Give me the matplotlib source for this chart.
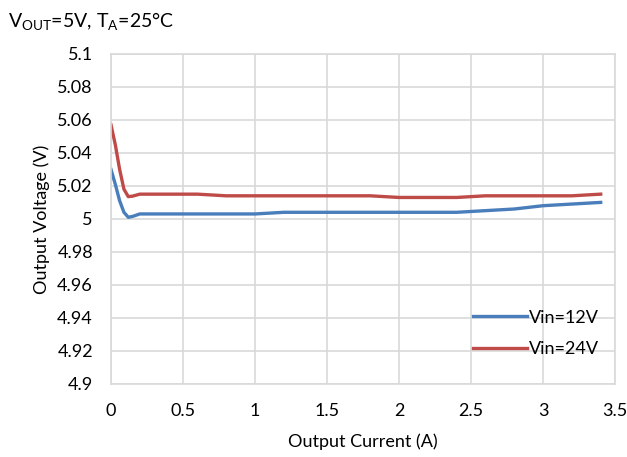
import numpy as np
import matplotlib.pyplot as plt

plt.rcParams['font.family'] = ['Lato', 'DejaVu Sans']
plt.rcParams['mathtext.fontset'] = 'custom'
plt.rcParams['mathtext.rm'] = 'Lato'

# Output current (A) and output voltage (V)
i_12 = [0, 0.03, 0.06, 0.09, 0.12, 0.15, 0.2, 0.4, 0.6, 0.8, 1.0, 1.2, 1.4, 1.6, 1.8, 2.0, 2.2, 2.4, 2.6, 2.8, 3.0, 3.2, 3.4]
v_12 = [5.030, 5.021, 5.011, 5.004, 5.001, 5.0015, 5.003, 5.003, 5.003, 5.003, 5.003, 5.004, 5.004, 5.004, 5.004, 5.004, 5.004, 5.004, 5.005, 5.006, 5.008, 5.009, 5.010]
i_24 = [0, 0.03, 0.06, 0.09, 0.12, 0.15, 0.2, 0.4, 0.6, 0.8, 1.0, 1.2, 1.4, 1.6, 1.8, 2.0, 2.2, 2.4, 2.6, 2.8, 3.0, 3.2, 3.4]
v_24 = [5.057, 5.045, 5.030, 5.018, 5.0135, 5.0138, 5.015, 5.015, 5.015, 5.014, 5.014, 5.014, 5.014, 5.014, 5.014, 5.013, 5.013, 5.013, 5.014, 5.014, 5.014, 5.014, 5.015]

xticks = [0, 0.5, 1, 1.5, 2, 2.5, 3, 3.5]
xtick_labels = ['0', '0.5', '1', '1.5', '2', '2.5', '3', '3.5']
yticks = [4.9, 4.92, 4.94, 4.96, 4.98, 5.0, 5.02, 5.04, 5.06, 5.08, 5.1]
ytick_labels = ['4.9', '4.92', '4.94', '4.96', '4.98', '5', '5.02', '5.04', '5.06', '5.08', '5.1']

fig = plt.figure(figsize=(6.27, 4.57), dpi=100)
ax = fig.add_axes([0.177, 0.160, 0.804, 0.722])

ax.plot(i_12, v_12, color='#4a7ebb', lw=2.4, label='Vin=12V')
ax.plot(i_24, v_24, color='#be4b48', lw=2.4, label='Vin=24V')

ax.set_xlim(0, 3.5)
ax.set_ylim(4.9, 5.1)
ax.set_xticks(xticks)
ax.set_xticklabels(xtick_labels)
ax.set_yticks(yticks)
ax.set_yticklabels(ytick_labels)
ax.tick_params(length=0, labelsize=13, colors='black')
ax.tick_params(axis='x', pad=14)
ax.tick_params(axis='y', pad=13)
ax.grid(True, color='#d9d9d9', lw=1.2)
for s in ax.spines.values():
    s.set_color('#d9d9d9')
    s.set_linewidth(1.2)

ax.set_xlabel('Output Current (A)', fontsize=13, labelpad=10)
ax.set_ylabel('Output Voltage (V)', fontsize=13, labelpad=5)

ax.legend(loc='lower right', bbox_to_anchor=(1.0, 0.032), frameon=False, fontsize=13,
          handlelength=3.0, handletextpad=0.1, labelspacing=0.85)

fig.text(0.012, 0.94, r'V$_{\mathrm{OUT}}$=5V, T$_{\mathrm{A}}$=25°C', fontsize=14)

fig.savefig('out.png', dpi=100)
